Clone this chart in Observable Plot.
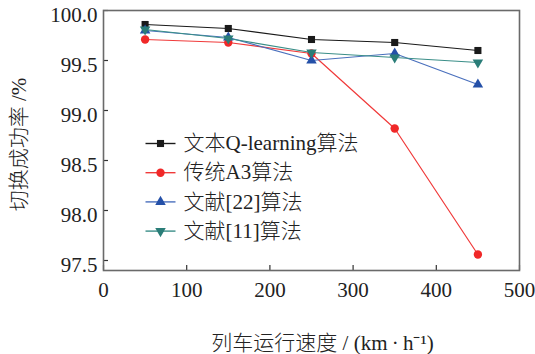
<!DOCTYPE html>
<html>
<head>
<meta charset="utf-8">
<script src="https://cdn.jsdelivr.net/npm/d3@7"></script>
<script src="https://cdn.jsdelivr.net/npm/@observablehq/plot@0.6"></script>
<style>
  html, body { margin: 0; padding: 0; background: #fff; }
  #chart svg { display: block; }
</style>
</head>
<body>
<div id="chart"></div>
<script>
// Handover success rate vs. train speed for four algorithms
const speeds = [50, 150, 250, 350, 450];
const seriesNames = ["文本Q-learning算法", "传统A3算法", "文献[22]算法", "文献[11]算法"];
const qlearning = [99.86, 99.82, 99.71, 99.68, 99.60];
const a3        = [99.71, 99.68, 99.57, 98.82, 97.56];
const ref22     = [99.80, 99.73, 99.50, 99.57, 99.26];
const ref11     = [99.81, 99.72, 99.58, 99.53, 99.48];
const xTicks = [0, 100, 200, 300, 400, 500];
const yTicks = [97.5, 98.0, 98.5, 99.0, 99.5, 100.0];
const xTitle = "列车运行速度 / (km\u2009·\u2009h⁻¹)";
const yTitle = "切换成功率 /%";

const styles = [
  {line: "#1a1a1a", marker: "#1a1a1a", symbol: "square", r: 4, rotate: 0},
  {line: "#f03a3a", marker: "#f02828", symbol: "circle", r: 4.2, rotate: 0},
  {line: "#4a70bd", marker: "#2450a8", symbol: "triangle", r: 3.9, rotate: 0},
  {line: "#3a8e88", marker: "#2a7d78", symbol: "triangle", r: 3.9, rotate: 180}
];
const values = [qlearning, a3, ref22, ref11];

const rows = values.flatMap((vals, s) =>
  speeds.map((v, i) => ({speed: v, rate: vals[i], series: s})));

// short horizontal stroke used as the legend line swatch
const swatchLine = {draw(ctx) { ctx.moveTo(-15, 0); ctx.lineTo(15, 0); }};

const font = "'Times New Roman', 'Liberation Serif', 'Noto Sans CJK SC', serif";

const seriesMarks = styles.flatMap((st, s) => {
  const d = rows.filter(r => r.series === s);
  return [
    Plot.line(d, {x: "speed", y: "rate", stroke: st.line, strokeWidth: 1.2}),
    Plot.dot(d, {x: "speed", y: "rate", symbol: st.symbol, r: st.r, fill: st.marker,
                 stroke: "none", rotate: st.rotate})
  ];
});

const legendMarks = styles.flatMap((st, s) => {
  const dy = 133 + s * 29.2;
  return [
    Plot.dot([0], {frameAnchor: "top-left", dx: 57, dy, symbol: swatchLine, r: 5,
                   fill: "none", stroke: st.line, strokeWidth: 1.4}),
    Plot.dot([0], {frameAnchor: "top-left", dx: 57, dy, symbol: st.symbol, r: st.r,
                   fill: st.marker, stroke: "none", rotate: st.rotate}),
    Plot.text([seriesNames[s]], {frameAnchor: "top-left", dx: 80, dy, textAnchor: "start",
                   lineAnchor: "middle", fontSize: 21, fill: "#222"})
  ];
});

const chart = Plot.plot({
  width: 535,
  height: 354,
  marginLeft: 103,
  marginRight: 16,
  marginTop: 10,
  marginBottom: 84,
  style: {fontFamily: font, fontSize: "21px", fontWeight: 300, color: "#222", background: "#fff"},
  x: {domain: [0, 500]},
  y: {domain: [97.4, 100.0]},
  marks: [
    Plot.axisX({ticks: xTicks, tickSize: 0, tickPadding: 12, label: null, fontSize: 21}),
    Plot.axisY({ticks: yTicks, tickSize: 0, tickPadding: 6, dy: 5, label: null, fontSize: 21,
                tickFormat: d => d.toFixed(1)}),
    // inward tick marks
    Plot.ruleX(xTicks, {insetTop: 255, stroke: "#333", strokeWidth: 1.2}),
    Plot.ruleY(yTicks, {insetRight: 411, stroke: "#333", strokeWidth: 1.2}),
    Plot.frame({stroke: "#6a6a6a", strokeWidth: 1.6}),
    ...seriesMarks,
    ...legendMarks,
    Plot.text([xTitle], {frameAnchor: "bottom", dx: 11, dy: 73, lineAnchor: "middle",
                         fontSize: 21, fill: "#222"}),
    Plot.text([yTitle], {frameAnchor: "left", dx: -84, dy: 4, rotate: -90, textAnchor: "middle",
                         lineAnchor: "middle", fontSize: 21, fill: "#222"})
  ]
});

document.getElementById("chart").append(chart);
</script>
</body>
</html>
